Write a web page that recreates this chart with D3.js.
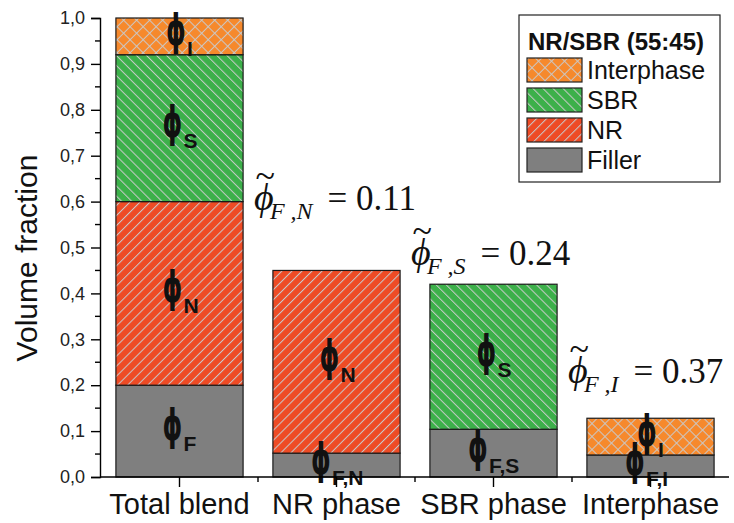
<!DOCTYPE html>
<html>
<head>
<meta charset="utf-8">
<script src="https://cdn.jsdelivr.net/npm/d3@7"></script>
<style>
  body { margin: 0; background: #fff; }
  svg { display: block; }
  text { font-family: "Liberation Sans", Arial, sans-serif; }
  text.serif { font-family: "Liberation Serif", "Times New Roman", serif; }
  text.phi { font-family: "DejaVu Sans", sans-serif; }
</style>
</head>
<body>
<svg id="chart" width="734" height="523"></svg>
<script>
// categories on the x axis
const categories = ["Total blend", "NR phase", "SBR phase", "Interphase"];
// volume fraction of each component inside each category
const fillerValues = [0.2, 0.052, 0.104, 0.048];
const nrValues = [0.4, 0.398, 0, 0];
const sbrValues = [0.32, 0, 0.316, 0];
const interphaseValues = [0.08, 0, 0, 0.08];
const yTicks = [0, 0.1, 0.2, 0.3, 0.4, 0.5, 0.6, 0.7, 0.8, 0.9, 1.0];
// phi labels: [category, component, subscript]
const phiLabels = [
  ["Total blend", "interphase", "I"],
  ["Total blend", "sbr", "S"],
  ["Total blend", "nr", "N"],
  ["Total blend", "filler", "F"],
  ["NR phase", "nr", "N"],
  ["NR phase", "filler", "F,N"],
  ["SBR phase", "sbr", "S"],
  ["SBR phase", "filler", "F,S"],
  ["Interphase", "interphase", "I"],
  ["Interphase", "filler", "F,I"]
];
// filler fraction annotations: [category, subscript, value]
const fillerFractions = [["NR phase", "N", "0.11"], ["SBR phase", "S", "0.24"], ["Interphase", "I", "0.37"]];
// height (volume fraction units) where each annotation sits
const fillerFractionAt = [0.582, 0.462, 0.205];

const keys = ["filler", "nr", "sbr", "interphase"];
const legendKeys = ["interphase", "sbr", "nr", "filler"];
const legendNames = { interphase: "Interphase", sbr: "SBR", nr: "NR", filler: "Filler" };

const rows = categories.map((c, i) => ({
  cat: c, filler: fillerValues[i], nr: nrValues[i], sbr: sbrValues[i], interphase: interphaseValues[i]
}));
const series = d3.stack().keys(keys)(rows);

const svg = d3.select("#chart");
const plotLeft = 100, plotRight = 729, plotTop = 18, plotBottom = 477;

const x = d3.scaleBand().domain(categories).range([plotLeft + 1, plotRight]).paddingInner(0.19).paddingOuter(0.095);
const y = d3.scaleLinear().domain([0, 1]).range([plotBottom, plotTop]);

// patterns
const defs = svg.append("defs");
const baseColor = { filler: "#7f7f7f", nr: "#ee4b25", sbr: "#3cb04a", interphase: "#f6892c" };
const hatch = "#c9c9c9";
function hatchPattern(id, color, angle, cross, size) {
  const p = defs.append("pattern")
    .attr("id", id)
    .attr("patternUnits", "userSpaceOnUse")
    .attr("width", size).attr("height", size)
    .attr("patternTransform", `rotate(${angle})`);
  p.append("rect").attr("width", size).attr("height", size).attr("fill", color);
  p.append("line").attr("x1", 0.5).attr("y1", 0).attr("x2", 0.5).attr("y2", size)
    .attr("stroke", hatch).attr("stroke-width", 1);
  if (cross) {
    p.append("line").attr("x1", 0).attr("y1", 0.5).attr("x2", size).attr("y2", 0.5)
      .attr("stroke", hatch).attr("stroke-width", 1);
  }
}
hatchPattern("p-nr", baseColor.nr, 45, false, 7.1);
hatchPattern("p-sbr", baseColor.sbr, -45, false, 7.1);
hatchPattern("p-int", baseColor.interphase, 45, true, 9.2);
const fills = { filler: baseColor.filler, nr: "url(#p-nr)", sbr: "url(#p-sbr)", interphase: "url(#p-int)" };

// bars
svg.append("g").selectAll("g")
  .data(series)
  .join("g")
  .attr("fill", d => fills[d.key])
  .selectAll("rect")
  .data(d => d.filter(s => s[1] - s[0] > 0))
  .join("rect")
  .attr("x", d => x(d.data.cat))
  .attr("y", d => y(d[1]))
  .attr("width", x.bandwidth())
  .attr("height", d => y(d[0]) - y(d[1]))
  .attr("stroke", "#1a1a1a")
  .attr("stroke-width", 1.2);

// phi labels in the middle of each segment
const segOf = (cat, key) => {
  const s = series.find(d => d.key === key);
  return s[categories.indexOf(cat)];
};
const lab = svg.append("g");
phiLabels.forEach(([cat, key, sub]) => {
  const seg = segOf(cat, key);
  const cy = y((seg[0] + seg[1]) / 2) - 3;
  const subW = sub.length > 1 ? 30 : (sub === "I" ? 6 : 13);
  const cx = x(cat) + x.bandwidth() / 2 - (21 + subW) / 2;
  const g = lab.append("g").attr("transform", `translate(${cx},${cy})`);
  g.append("text").attr("class", "phi")
    .attr("transform", "scale(0.58,1)")
    .attr("x", 0).attr("y", 12)
    .attr("font-size", 43).attr("font-weight", "bold").attr("fill", "#111")
    .text("\u03D5");
  g.append("text")
    .attr("x", 21).attr("y", 23)
    .attr("font-size", 21).attr("font-weight", "bold").attr("fill", "#111")
    .text(sub);
});

// axes
const yAxis = d3.axisLeft(y).tickValues(yTicks).tickSize(9).tickPadding(6)
  .tickFormat(d => d3.format(".1f")(d).replace(".", ","));
const gy = svg.append("g").attr("transform", `translate(${plotLeft},0)`).call(yAxis);
gy.selectAll("text").attr("font-size", 18).attr("fill", "#222");
gy.select(".domain").attr("stroke-width", 1.4);
gy.selectAll(".tick line").attr("stroke-width", 1.4);
// minor y ticks
svg.append("g").selectAll("line")
  .data(yTicks.slice(0, -1).map(d => d + 0.05))
  .join("line")
  .attr("x1", plotLeft - 5).attr("x2", plotLeft)
  .attr("y1", d => y(d)).attr("y2", d => y(d))
  .attr("stroke", "#000").attr("stroke-width", 1.4);

const xAxis = d3.axisBottom(x).tickSize(10).tickPadding(6).tickSizeOuter(0);
const gx = svg.append("g").attr("transform", `translate(0,${plotBottom})`).call(xAxis);
gx.selectAll("text").attr("font-size", 29).attr("fill", "#111");
gx.select(".domain").attr("stroke-width", 1.4).attr("d", `M${plotLeft},0H${plotRight}`);
gx.selectAll(".tick line").attr("stroke-width", 1.4);
// minor x ticks at band boundaries
svg.append("g").selectAll("line")
  .data(categories.slice(1).map(c => x(c) - x.step() * x.paddingInner() / 2))
  .join("line")
  .attr("x1", d => d).attr("x2", d => d)
  .attr("y1", plotBottom).attr("y2", plotBottom + 5)
  .attr("stroke", "#000").attr("stroke-width", 1.4);

// y axis title
svg.append("text")
  .attr("transform", `translate(37,258) rotate(-90)`)
  .attr("text-anchor", "middle")
  .attr("font-size", 30).attr("fill", "#111")
  .text("Volume fraction");

// filler fraction annotations (serif math), one text element each
const ann = svg.append("g").attr("fill", "#111");
fillerFractions.forEach(([cat, sub, val], i) => {
  const bx = x(cat) - 19;
  const by = y(fillerFractionAt[i]);
  const t = ann.append("text").attr("class", "serif")
    .attr("transform", `translate(${bx},${by})`);
  t.append("tspan").attr("x", 0).attr("y", 0)
    .attr("font-size", 38).attr("font-style", "italic").text("\u03D5");
  t.append("tspan").attr("x", 1).attr("y", -22)
    .attr("font-size", 36).attr("font-style", "italic").text("~");
  t.append("tspan").attr("x", 16).attr("y", 9)
    .attr("font-size", 24).attr("font-style", "italic").text(`F ,${sub}`);
  t.append("tspan").attr("dx", 15).attr("y", 0)
    .attr("font-size", 35).text(`= ${val}`);
});

// legend
const lg = svg.append("g").attr("transform", "translate(519,15)");
lg.append("rect").attr("width", 201).attr("height", 167)
  .attr("fill", "#fff").attr("stroke", "#222").attr("stroke-width", 1.2);
lg.append("text").attr("x", 9).attr("y", 35)
  .attr("font-size", 24).attr("font-weight", "bold").attr("fill", "#111")
  .text("NR/SBR (55:45)");
legendKeys.forEach((k, i) => {
  const yy = 43 + i * 30;
  lg.append("rect").attr("x", 8).attr("y", yy).attr("width", 55).attr("height", 24)
    .attr("fill", fills[k]).attr("stroke", "#222").attr("stroke-width", 1.2);
  lg.append("text").attr("x", 68).attr("y", yy + 21)
    .attr("font-size", 25).attr("fill", "#111")
    .text(legendNames[k]);
});
</script>
</body>
</html>
